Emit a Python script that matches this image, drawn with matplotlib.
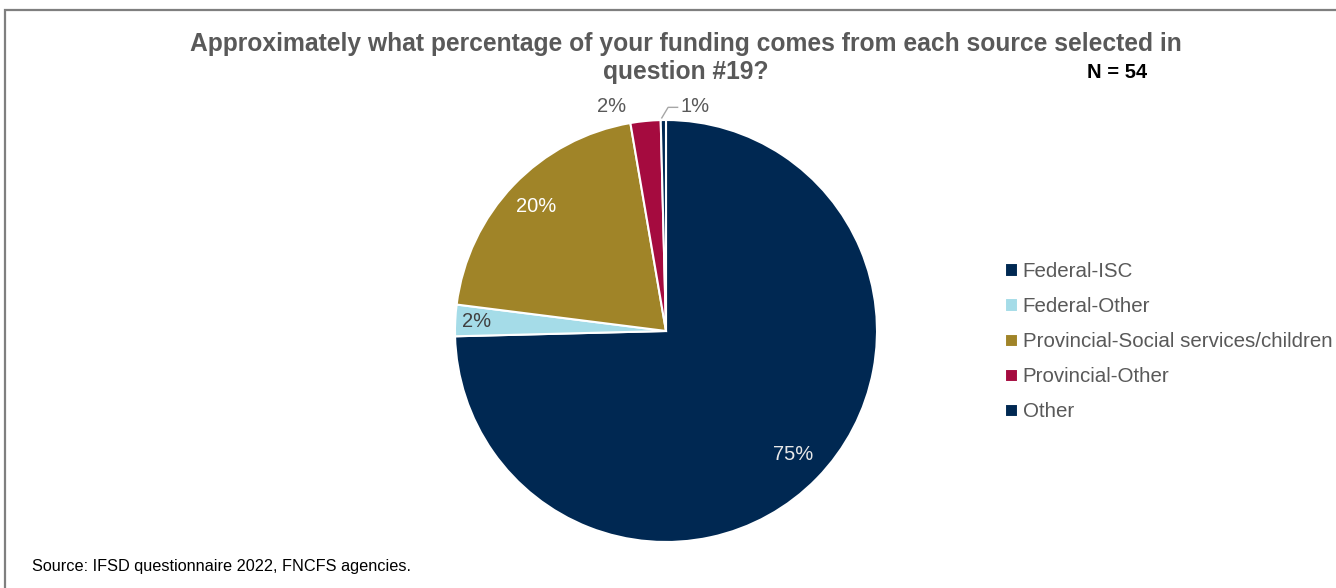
import matplotlib.pyplot as plt
from matplotlib.patches import Rectangle
import numpy as np

plt.rcParams['font.family'] = ['Liberation Sans', 'DejaVu Sans']

# Funding sources (share of funding, %)
sources = ["Federal-ISC", "Federal-Other", "Provincial-Social services/children",
           "Provincial-Other", "Other"]
shares = [74.6, 2.4, 20.3, 2.3, 0.4]
pct_labels = ["75%", "2%", "20%", "2%", "1%"]
colors = ["#002852", "#A5DCE8", "#A08428", "#A50B3F", "#002852"]

fig = plt.figure(figsize=(13.36, 5.88), dpi=100)

# outer frame
fig.patches.append(Rectangle((5 / 1336, -0.1), 1.2, 1.1 - 10 / 588, transform=fig.transFigure,
                             fill=False, edgecolor="#7f7f7f", linewidth=1.6))

cx, cy, r = 666, 331, 211
ax = fig.add_axes([(cx - r) / 1336, (588 - cy - r) / 588, 2 * r / 1336, 2 * r / 588])
wedges, _ = ax.pie(shares, colors=colors, startangle=90, counterclock=False,
                   wedgeprops=dict(edgecolor="white", linewidth=1.5))
ax.set_aspect("equal")
ax.set_xlim(-1, 1)
ax.set_ylim(-1, 1)

# labels
inside = {0: (0.84, "#e8e8e8"), 1: (0.9, "#404040"), 2: (0.85, "white")}
for i, w in enumerate(wedges):
    ang = np.deg2rad((w.theta1 + w.theta2) / 2)
    if i in inside:
        d, c = inside[i]
        ax.text(d * np.cos(ang), d * np.sin(ang), pct_labels[i], ha="center", va="center",
                fontsize=14.5, color=c)
ax.text(-0.26, 1.065, pct_labels[3], ha="center", va="center", fontsize=14.5, color="#595959")
ax.plot([-0.02, 0.01, 0.055], [1.01, 1.06, 1.06], color="#a6a6a6", lw=1, clip_on=False)
ax.text(0.14, 1.065, pct_labels[4], ha="center", va="center", fontsize=14.5, color="#595959")

fig.text(686 / 1336, 1 - 44 / 588, "Approximately what percentage of your funding comes from each source selected in",
         ha="center", va="center", fontsize=17.7, fontweight="bold", color="#595959")
fig.text(686 / 1336, 1 - 72 / 588, "question #19?",
         ha="center", va="center", fontsize=17.7, fontweight="bold", color="#595959")
fig.text(1117 / 1336, 1 - 72 / 588, "N = 54", ha="center", va="center",
         fontsize=14.5, fontweight="bold", color="black")

fig.legend(wedges, sources, loc="upper left", bbox_to_anchor=(997 / 1336, 1 - 254 / 588),
           frameon=False, fontsize=14.8, labelcolor="#595959", handlelength=0.6,
           handleheight=0.6, handletextpad=0.25, labelspacing=0.78, borderaxespad=0)

fig.text(32 / 1336, 1 - 566 / 588, "Source: IFSD questionnaire 2022, FNCFS agencies.",
         ha="left", va="center", fontsize=11.7, color="black")

fig.savefig("out.png", dpi=100)
